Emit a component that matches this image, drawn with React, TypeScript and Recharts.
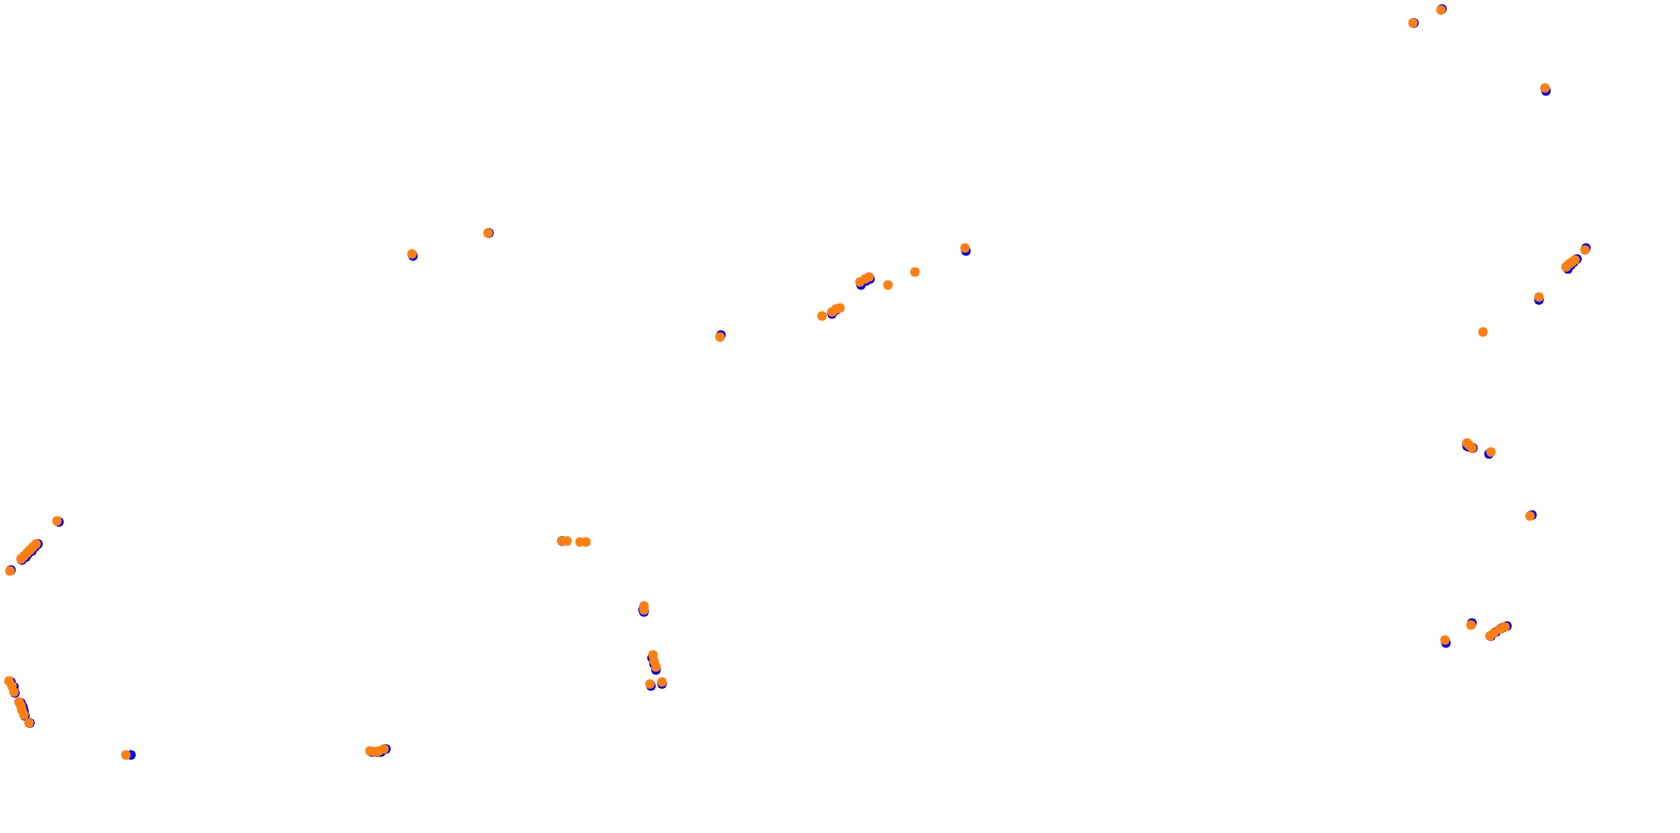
import React from "react";
import { ScatterChart, Scatter, XAxis, YAxis } from "recharts";

const orangeX = [57,21,24,27,30,33,36,10,9,12,14,19,21,22,24,29,126,370,375,379,384,412,488,562,567,580,586,644,644,653,654,656,650,662,720,822,832,836,840,860,865,869,888,915,965,1413,1441,1545,1585,1566,1569,1572,1575,1539,1483,1467,1469,1472,1491,1530,1445,1471,1490,1494,1500,1505];
const orangeY = [521,559,556,553,550,547,544,571,681,686,692,702,706,710,715,723,755,751,752,751,749,254,233,541,541,542,542,606,610,655,661,667,684,682,337,316,312,309,308,282,279,277,285,272,248,23,10,88,250,267,264,262,260,297,332,443,445,448,452,516,640,625,636,633,629,627];

const blueX = [59,22,26,28,32,35,38,11,11,14,15,21,23,24,25,30,131,372,377,381,386,413,489,562,643,644,652,654,656,651,662,721,832,836,861,866,870,966,1414,1442,1546,1586,1568,1571,1574,1577,1539,1467,1469,1473,1489,1532,1446,1472,1491,1496,1502,1507];
const blueY = [522,560,557,554,551,547,544,570,682,687,693,703,707,711,716,723,755,752,752,752,749,256,233,541,610,612,658,664,670,686,684,335,314,310,285,281,279,251,23,9,91,248,269,265,262,259,300,446,447,448,454,515,643,623,636,632,628,626];

const orangeData = orangeX.map((x, i) => ({ x, y: orangeY[i] }));
const blueData = blueX.map((x, i) => ({ x, y: blueY[i] }));

const dot = (color: string) => (props: any) => (
  <circle cx={props.cx} cy={props.cy} r={4.8} fill={color} stroke="none" />
);

export default function App() {
  return (
    <div style={{ position: "absolute", left: 0, top: 0, width: 1680, height: 833, background: "#fff" }}>
      <ScatterChart width={1680} height={833} margin={{ top: 0, right: 0, bottom: 0, left: 0 }}>
        <XAxis type="number" dataKey="x" domain={[0, 1680]} hide />
        <YAxis type="number" dataKey="y" domain={[0, 833]} reversed hide />
        <Scatter data={blueData} fill="#0000ff" shape={dot("#0000ff")} isAnimationActive={false} />
        <Scatter data={orangeData} fill="#ff7f0e" shape={dot("#ff7f0e")} isAnimationActive={false} />
      </ScatterChart>
    </div>
  );
}
